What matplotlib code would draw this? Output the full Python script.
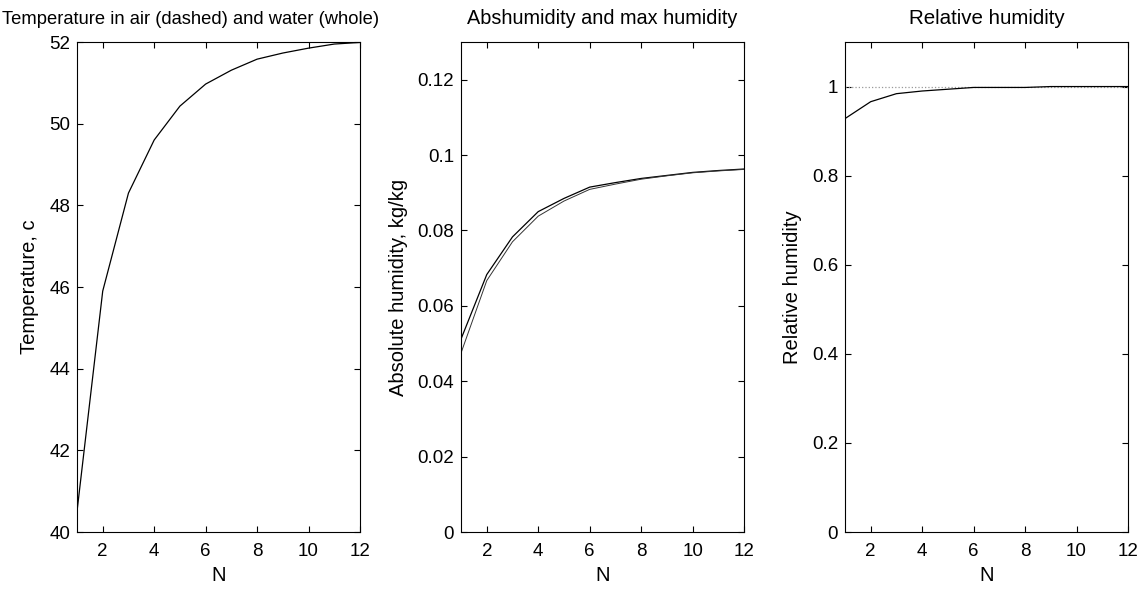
import matplotlib
matplotlib.use("Agg")
import matplotlib.pyplot as plt
import numpy as np

plt.rcParams['font.family'] = ['Liberation Sans', 'DejaVu Sans']
plt.rcParams['font.size'] = 14.5

N = np.arange(1, 13)

# temperature of water (whole line)
temp_water = [40.5, 45.9, 48.3, 49.6, 50.43, 50.97, 51.31, 51.58, 51.73, 51.85, 51.95, 51.99]

# absolute humidity and max humidity
abs_hum = [0.0512, 0.0683, 0.0783, 0.0850, 0.0885, 0.0915, 0.0927, 0.0938, 0.0946, 0.0954, 0.0959, 0.0963]
max_hum = [0.0475, 0.0667, 0.0770, 0.0838, 0.0878, 0.0909, 0.0923, 0.0936, 0.0945, 0.0953, 0.0958, 0.0962]

# relative humidity
rel_hum = [0.928, 0.966, 0.984, 0.990, 0.994, 0.998, 0.998, 0.998, 1.0, 1.0, 1.0, 1.0]
rel_ref = [1.0] * 12

fig = plt.figure(figsize=(11.44, 5.9), dpi=100)

bottom = 0.0983
height = 0.8305
width = 0.2474
ax1 = fig.add_axes([0.0673, bottom, width, height])
ax2 = fig.add_axes([0.4030, bottom, width, height])
ax3 = fig.add_axes([0.7386, bottom, width, height])

ax1.plot(N, temp_water, color='black', lw=0.9)
ax1.set_ylim(40, 52)
ax1.set_yticks([40, 42, 44, 46, 48, 50, 52])
ax1.set_ylabel("Temperature, c", labelpad=7)
ax1.set_title("Temperature in air (dashed) and water (whole)", x=0.40, pad=13, fontsize=13.2)

ax2.plot(N, abs_hum, color='black', lw=0.9)
ax2.plot(N, max_hum, color='#333333', lw=0.7)
ax2.set_ylim(0, 0.13)
ax2.set_yticks([0, 0.02, 0.04, 0.06, 0.08, 0.1, 0.12])
ax2.set_yticklabels(["0", "0.02", "0.04", "0.06", "0.08", "0.1", "0.12"])
ax2.set_ylabel("Absolute humidity, kg/kg", labelpad=7)
ax2.set_title("Abshumidity and max humidity", pad=13, fontsize=14.3)

ax3.plot(N, rel_ref, color='#999999', lw=0.9, ls=':')
ax3.plot(N, rel_hum, color='black', lw=0.9)
ax3.set_ylim(0, 1.1)
ax3.set_yticks([0, 0.2, 0.4, 0.6, 0.8, 1])
ax3.set_yticklabels(["0", "0.2", "0.4", "0.6", "0.8", "1"])
ax3.set_ylabel("Relative humidity", labelpad=7)
ax3.set_title("Relative humidity", pad=13, fontsize=14.8)

for ax in (ax1, ax2, ax3):
    ax.set_xlim(1, 12)
    ax.set_xticks([2, 4, 6, 8, 10, 12])
    ax.set_xlabel("N", labelpad=4)
    ax.tick_params(direction='in', top=True, right=True, length=4, width=0.8, labelsize=13.5)
    ax.tick_params(axis='x', pad=8)
    ax.tick_params(axis='y', pad=5)
    for s in ax.spines.values():
        s.set_linewidth(0.8)

fig.savefig("out.png", dpi=100)
